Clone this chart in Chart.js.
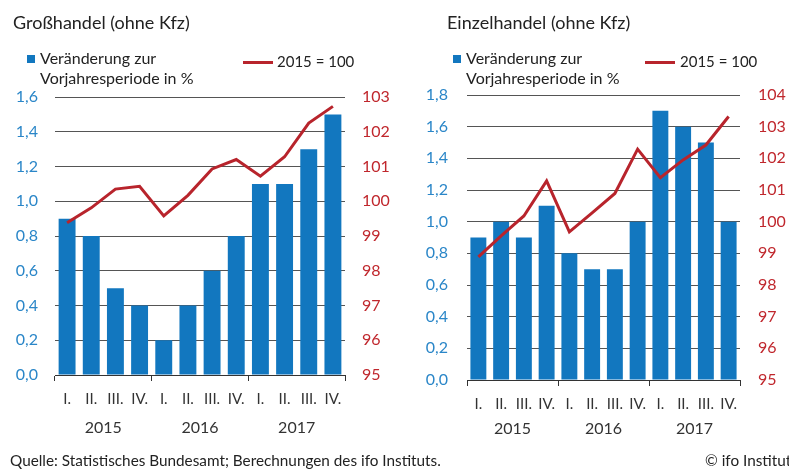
<!DOCTYPE html>
<html>
<head>
<meta charset="utf-8">
<script src="https://cdn.jsdelivr.net/npm/chart.js@4/dist/chart.umd.min.js"></script>
<style>
  html, body { margin:0; padding:0; background:#fff; width:789px; height:470px; overflow:hidden; }
  body { position:relative; font-family: Lato, "Noto Sans", sans-serif; color:#222; }
  canvas { position:absolute; top:0; }
  .txt { position:absolute; white-space:nowrap; line-height:1; }
  .title { font-size:18px; }
  .leg { font-size:16px; }
  .leg2 { font-size:15px; }
  .sq { position:absolute; width:8px; height:8px; background:#1277BF; }
  .ln { position:absolute; width:30px; height:3px; background:#B8242C; }
  .foot { font-size:15.3px; }
</style>
</head>
<body>
<canvas id="c1" width="395" height="470" style="left:0px"></canvas>
<canvas id="c2" width="394" height="470" style="left:395px"></canvas>

<div class="txt title" style="left:13px; top:13px;">Großhandel (ohne Kfz)</div>
<div class="sq" style="left:27px; top:55px;"></div>
<div class="txt leg" style="left:40px; top:50px;">Veränderung zur</div>
<div class="txt leg" style="left:40px; top:70px;">Vorjahresperiode in %</div>
<div class="ln" style="left:243px; top:61px;"></div>
<div class="txt leg2" style="left:277px; top:54px;">2015 = 100</div>

<div class="txt title" style="left:447px; top:13px;">Einzelhandel (ohne Kfz)</div>
<div class="sq" style="left:453px; top:55px;"></div>
<div class="txt leg" style="left:466px; top:50px;">Veränderung zur</div>
<div class="txt leg" style="left:466px; top:70px;">Vorjahresperiode in %</div>
<div class="ln" style="left:645px; top:61px;"></div>
<div class="txt leg2" style="left:680px; top:54px;">2015 = 100</div>

<div class="txt foot" style="left:10px; top:453px;">Quelle: Statistisches Bundesamt; Berechnungen des ifo Instituts.</div>
<div class="txt foot" style="left:705px; top:453px;">© ifo Institut</div>

<script>
const quarterLabels = ['I.','II.','III.','IV.','I.','II.','III.','IV.','I.','II.','III.','IV.'];
const yearLabels = ['2015','2016','2017'];

const grossChange = [0.9, 0.8, 0.5, 0.4, 0.2, 0.4, 0.6, 0.8, 1.1, 1.1, 1.3, 1.5];
const grossIndex  = [99.38, 99.81, 100.35, 100.43, 99.58, 100.17, 100.93, 101.20, 100.72, 101.28, 102.25, 102.73];

const retailChange = [0.9, 1.0, 0.9, 1.1, 0.8, 0.7, 0.7, 1.0, 1.7, 1.6, 1.5, 1.0];
const retailIndex  = [98.89, 99.55, 100.18, 101.29, 99.68, 100.28, 100.89, 102.29, 101.39, 101.95, 102.42, 103.32];

const grossLeftAxis = { min: 0, max: 1.6, step: 0.2 };
const grossRightAxis = { min: 95, max: 103, step: 1 };
const retailLeftAxis = { min: 0, max: 1.8, step: 0.2 };
const retailRightAxis = { min: 95, max: 104, step: 1 };

const BLUE = '#1277BF';
const RED = '#B8242C';
const FONT = 'Lato, "Noto Sans", sans-serif';

function makeChart(id, change, index, la, ra, geo) {
  new Chart(document.getElementById(id), {
    data: {
      labels: quarterLabels,
      datasets: [
        { type: 'line', data: index, yAxisID: 'y1', borderColor: RED, borderWidth: 3,
          pointRadius: 0, tension: 0, order: 0, borderJoinStyle: 'miter' },
        { type: 'bar', data: change, yAxisID: 'y', backgroundColor: BLUE,
          barPercentage: 0.7, categoryPercentage: 1.0, order: 1 }
      ]
    },
    options: {
      responsive: false,
      animation: false,
      devicePixelRatio: 1,
      layout: { padding: { top: geo.top, bottom: geo.bottom, left: 0, right: 0 } },
      plugins: { legend: { display: false }, tooltip: { enabled: false } },
      scales: {
        x: {
          type: 'category', position: 'bottom', offset: true,
          grid: {
            offset: true, drawOnChartArea: false, drawTicks: true, tickLength: 6, lineWidth: 1,
            color: (c) => (c.index === undefined || c.index % 4 === 0) ? '#333' : 'rgba(0,0,0,0)'
          },
          border: { display: true, color: '#333', width: 1 },
          ticks: { color: '#333', font: { family: FONT, size: 15 }, padding: geo.qPad, maxRotation: 0, autoSkip: false },
          afterFit: (s) => { s.height = geo.qH; }
        },
        xYear: {
          type: 'category', position: 'bottom', labels: yearLabels, offset: true,
          grid: { display: false, drawTicks: false },
          border: { display: false },
          ticks: { color: '#333', font: { family: FONT, size: 16 }, padding: geo.yPad, maxRotation: 0 },
          afterFit: (s) => { s.height = geo.yH; }
        },
        y: {
          position: 'left', min: la.min, max: la.max,
          grid: { color: '#555', lineWidth: 1, drawTicks: false },
          border: { display: false },
          ticks: { stepSize: la.step, color: '#2A86C8', font: { family: FONT, size: 16 }, padding: geo.lPad,
                   callback: (v) => v.toFixed(1).replace('.', ',') },
          afterFit: (s) => { s.width = geo.lW; }
        },
        y1: {
          position: 'right', min: ra.min, max: ra.max,
          grid: { display: false, drawTicks: false },
          border: { display: false },
          ticks: { stepSize: ra.step, color: '#C0272D', font: { family: FONT, size: 16 }, padding: geo.rPad,
                   callback: (v) => String(Math.round(v)) },
          afterFit: (s) => { s.width = geo.rW; }
        }
      }
    }
  });
}

makeChart('c1', grossChange, grossIndex, grossLeftAxis, grossRightAxis,
  { top: 97, bottom: 29, qH: 36, yH: 30, qPad: 9, yPad: 7, lW: 55, rW: 50, lPad: 17, rPad: 17 });
makeChart('c2', retailChange, retailIndex, retailLeftAxis, retailRightAxis,
  { top: 95, bottom: 24, qH: 36, yH: 30, qPad: 9, yPad: 3, lW: 72, rW: 49, lPad: 19, rPad: 18 });
</script>
</body>
</html>
